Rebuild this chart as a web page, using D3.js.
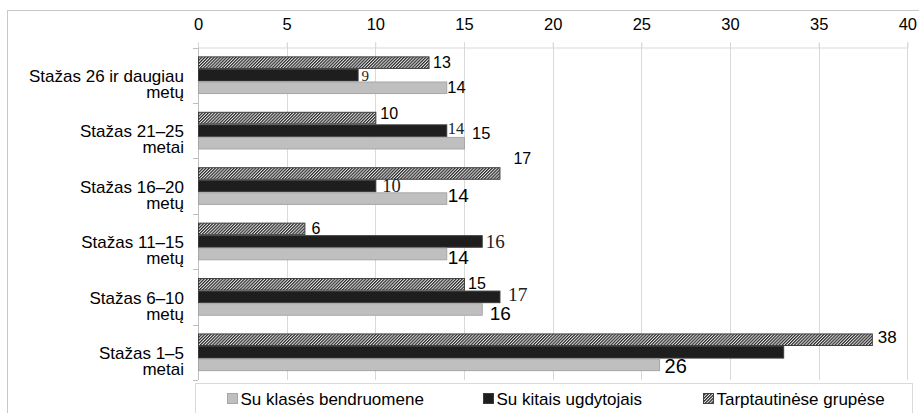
<!DOCTYPE html>
<html><head><meta charset="utf-8">
<script src="https://cdn.jsdelivr.net/npm/d3@7"></script>
<style>body{margin:0;background:#fff}svg{display:block}</style>
</head><body>
<svg id="chart" width="919" height="413"></svg>
<script>
// ---- data ----
const categories = [
  "Stažas 26 ir daugiau metų",
  "Stažas 21–25 metai",
  "Stažas 16–20 metų",
  "Stažas 11–15 metų",
  "Stažas 6–10 metų",
  "Stažas 1–5 metai"
];
const seriesNames = ["Tarptautinėse grupėse", "Su kitais ugdytojais", "Su klasės bendruomene"];
const tarptautinese = [13, 10, 17, 6, 15, 38];
const suKitais      = [9, 14, 10, 16, 17, 33];
const suKlases      = [14, 15, 14, 14, 16, 26];
const showLabel     = [[1,1,1,1,1,1],[1,1,1,1,1,0],[1,1,1,1,1,1]];
const xTicks = [0, 5, 10, 15, 20, 25, 30, 35, 40];
const legendOrder = ["Su klasės bendruomene", "Su kitais ugdytojais", "Tarptautinėse grupėse"];

// ---- label styles (font, size, offsets) per series/category ----
const SANS = "Liberation Sans, Arial, sans-serif";
const SERIF = "Liberation Serif, Times New Roman, serif";
const labelStyle = [
  // striped
  [{f:SANS,s:16,gap:4.5,dy:0},{f:SANS,s:16,gap:5,dy:-4.5},{f:SANS,s:16,gap:14,dy:-15},{f:SANS,s:16,gap:7,dy:-0.5},{f:SANS,s:16,gap:4,dy:-1},{f:SANS,s:17,gap:6,dy:-3}],
  // black
  [{f:SERIF,s:15,gap:4,dy:1},{f:SERIF,s:16.5,gap:1.5,dy:-2},{f:SERIF,s:18.5,gap:7,dy:-1},{f:SERIF,s:19,gap:4,dy:-0.5},{f:SERIF,s:19.5,gap:8.5,dy:-2.5},{f:SERIF,s:18,gap:6,dy:0}],
  // gray
  [{f:SANS,s:16.5,gap:1,dy:-1},{f:SANS,s:16.5,gap:8,dy:-10},{f:SANS,s:19,gap:1.5,dy:-3.5},{f:SANS,s:19,gap:1.5,dy:3},{f:SANS,s:19,gap:8,dy:3.5},{f:SANS,s:20,gap:5.5,dy:1}]
];

const values = [tarptautinese, suKitais, suKlases];

const svg = d3.select("#chart");
const defs = svg.append("defs");
const pat = defs.append("pattern").attr("id","hatch").attr("patternUnits","userSpaceOnUse")
  .attr("width",2.2).attr("height",2.2).attr("patternTransform","rotate(45)");
pat.append("rect").attr("width",2.2).attr("height",2.2).attr("fill","#e6e6e6");
pat.append("rect").attr("width",1.2).attr("height",2.2).attr("fill","#2a2a2a");

const fills = ["url(#hatch)", "#1e1e1e", "#bfbfbf"];
const strokes = ["#404040", "#3a3a3a", "#a6a6a6"];

// outer frame
svg.append("rect").attr("x",7.5).attr("y",10.5).attr("width",930).attr("height",420)
  .attr("fill","none").attr("stroke","#c8c8c8");

const pL = 198, pR = 907.3, pT = 47.5, pB = 380;
const x = d3.scaleLinear().domain([0, 40]).range([pL, pR]);
const y = d3.scaleBand().domain(categories).range([pT, pB]).paddingInner(0.32).paddingOuter(0.16);
const ySub = d3.scaleBand().domain(seriesNames).range([0, y.bandwidth()]);

// gridlines
svg.append("g").selectAll("line").data(xTicks).join("line")
  .attr("x1", d => Math.round(x(d)) + 0.5).attr("x2", d => Math.round(x(d)) + 0.5)
  .attr("y1", pT - 5).attr("y2", pB)
  .attr("stroke", "#d9d9d9").attr("stroke-width", 1);

// top axis
const xAxis = svg.append("g").attr("transform", `translate(0,${pT})`)
  .call(d3.axisTop(x).tickValues(xTicks).tickSize(5).tickPadding(12.5));
xAxis.select(".domain").attr("stroke", "#d9d9d9");
xAxis.selectAll(".tick line").attr("stroke", "#d9d9d9");
xAxis.selectAll("text").attr("font-family", SANS).attr("font-size", 16.5).attr("fill", "#000");

// left axis line + ticks at band boundaries
svg.append("line").attr("x1", pL + 0.5).attr("x2", pL + 0.5).attr("y1", pT).attr("y2", pB)
  .attr("stroke", "#bfbfbf");
const bounds = d3.range(categories.length + 1).map(i => pT + i * (pB - pT) / categories.length);
svg.append("g").selectAll("line").data(bounds).join("line")
  .attr("x1", pL - 5).attr("x2", pL).attr("y1", d => Math.round(d) + 0.5).attr("y2", d => Math.round(d) + 0.5)
  .attr("stroke", "#bfbfbf");

// category labels
categories.forEach((c, i) => {
  const idx = c.lastIndexOf(" ");
  const l1 = c.slice(0, idx), l2 = c.slice(idx + 1);
  const cy = y(c) + y.bandwidth() / 2;
  const t = svg.append("text").attr("text-anchor", "end")
    .attr("font-family", SANS).attr("font-size", 17).attr("fill", "#000");
  t.append("tspan").attr("x", 184).attr("y", cy + 6.8).text(l1);
  t.append("tspan").attr("x", 184).attr("y", cy + 22.8).text(l2);
});

// bars
seriesNames.forEach((s, si) => {
  svg.append("g").selectAll("rect").data(values[si]).join("rect")
    .attr("x", pL + 0.5)
    .attr("y", (d, i) => y(categories[i]) + ySub(s) + 0.5)
    .attr("width", d => x(d) - pL)
    .attr("height", ySub.bandwidth() - 1)
    .attr("fill", fills[si]).attr("stroke", strokes[si]).attr("stroke-width", 1);
});

// value labels
seriesNames.forEach((s, si) => {
  values[si].forEach((v, i) => {
    if (!showLabel[si][i]) return;
    const st = labelStyle[si][i];
    const cy = y(categories[i]) + ySub(s) + ySub.bandwidth() / 2;
    svg.append("text").attr("x", x(v) + st.gap).attr("y", cy + st.dy)
      .attr("dy", "0.35em").attr("font-family", st.f).attr("font-size", st.s)
      .attr("fill", si === 1 ? "#222" : "#000").text(v);
  });
});

// legend
svg.append("rect").attr("x", 195.5).attr("y", 383.5).attr("width", 717).attr("height", 40)
  .attr("fill", "#fff").attr("stroke", "#d9d9d9");
const legendX = [227, 483, 703];
const legendFill = ["#bfbfbf", "#1e1e1e", "url(#hatch)"];
const legendStroke = ["#a6a6a6", "#3a3a3a", "#404040"];
legendOrder.forEach((name, i) => {
  svg.append("rect").attr("x", legendX[i] + 0.5).attr("y", 393.5).attr("width", 10).attr("height", 10)
    .attr("fill", legendFill[i]).attr("stroke", legendStroke[i]);
  svg.append("text").attr("x", legendX[i] + 13.5).attr("y", 404.5)
    .attr("font-family", SANS).attr("font-size", 17).attr("fill", "#000").text(name);
});
</script>
</body></html>
